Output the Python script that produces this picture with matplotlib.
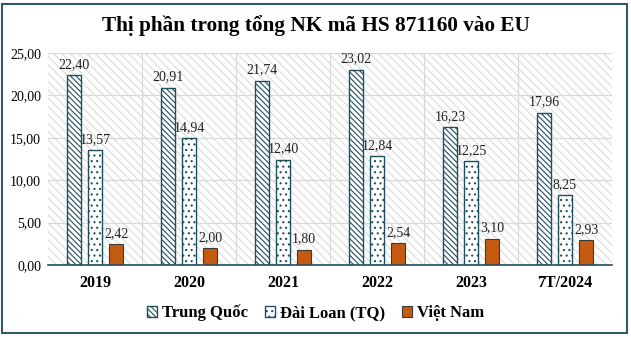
import matplotlib
matplotlib.use("Agg")
import matplotlib.pyplot as plt
import numpy as np
from matplotlib.patches import Rectangle

categories = ["2019", "2020", "2021", "2022", "2023", "7T/2024"]
trung_quoc = [22.40, 20.91, 21.74, 23.02, 16.23, 17.96]
dai_loan = [13.57, 14.94, 12.40, 12.84, 12.25, 8.25]
viet_nam = [2.42, 2.00, 1.80, 2.54, 3.10, 2.93]
series_names = ["Trung Quốc", "Đài Loan (TQ)", "Việt Nam"]
yticks = [0, 5, 10, 15, 20, 25]

plt.rcParams['font.family'] = ['Liberation Serif', 'DejaVu Serif']
plt.rcParams['hatch.linewidth'] = 0.8

W, H = 631, 337
fig = plt.figure(figsize=(W/100, H/100), dpi=100)
ax = fig.add_axes([48/W, 1-265/H, (612-48)/W, (265-53)/H])

# background hatch
bg = Rectangle((0, 0), 1, 1, transform=ax.transAxes, facecolor='white',
               edgecolor='#dcdcdc', hatch='\\\\\\\\', linewidth=0, zorder=0)
ax.add_patch(bg)

x = np.arange(len(categories))
bw = 0.15
off = 0.225
edge = '#1f4e5f'
fmt = lambda v: f"{v:.2f}".replace('.', ',')

b1 = ax.bar(x - off, trung_quoc, bw, facecolor='white', edgecolor=edge, hatch='\\\\\\\\\\\\',
            linewidth=1.0, zorder=3, label=series_names[0])
b2 = ax.bar(x, dai_loan, bw, facecolor='white', edgecolor=edge, hatch='...',
            linewidth=1.0, zorder=3, label=series_names[1])
b3 = ax.bar(x + off, viet_nam, bw, facecolor='#c55a11', edgecolor='#3a3a3a',
            linewidth=0.8, zorder=3, label=series_names[2])

for bars, vals in ((b1, trung_quoc), (b2, dai_loan), (b3, viet_nam)):
    for r, v in zip(bars, vals):
        ax.annotate(fmt(v), (r.get_x() + r.get_width()/2, v), xytext=(0, 3),
                    textcoords='offset points', ha='center', va='bottom',
                    fontsize=10, color='#222222', zorder=4)

ax.set_xlim(-0.5, len(categories) - 0.5)
ax.set_ylim(0, 25)
ax.set_yticks(yticks)
ax.set_yticklabels([fmt(v) for v in yticks], fontsize=10)
ax.set_xticks(x)
ax.set_xticklabels(categories, fontsize=11.5, fontweight='bold')
ax.tick_params(axis='both', length=0, pad=5)
ax.tick_params(axis='x', pad=7)

for yv in yticks[1:]:
    ax.axhline(yv, color='#d9d9d9', linewidth=0.9, zorder=1)
for xv in np.arange(0.5, len(categories) - 0.5, 1):
    ax.axvline(xv, color='#d9d9d9', linewidth=0.9, zorder=1)

for s in ['top', 'right', 'left']:
    ax.spines[s].set_visible(False)
ax.spines['bottom'].set_color(edge)
ax.spines['bottom'].set_linewidth(1.2)
ax.spines['bottom'].set_zorder(5)

fig.text(0.5, 1 - 26/H, "Thị phần trong tổng NK mã HS 871160 vào EU", ha='center', va='center',
         fontsize=15.3, fontweight='bold')

leg = fig.legend(handles=[b1, b2, b3], labels=series_names, loc='center',
                 bbox_to_anchor=(0.5, 1 - 313/H), ncol=3, frameon=False,
                 prop={'size': 12, 'weight': 'bold'}, handlelength=0.6, handleheight=0.6,
                 handletextpad=0.3, columnspacing=1.0)

border = Rectangle((2/W, 4/H), (627-2)/W, (333-4)/H, transform=fig.transFigure,
                   fill=False, edgecolor='#2f5a6a', linewidth=1.5)
fig.patches.append(border)

fig.savefig("out.png", dpi=100)
